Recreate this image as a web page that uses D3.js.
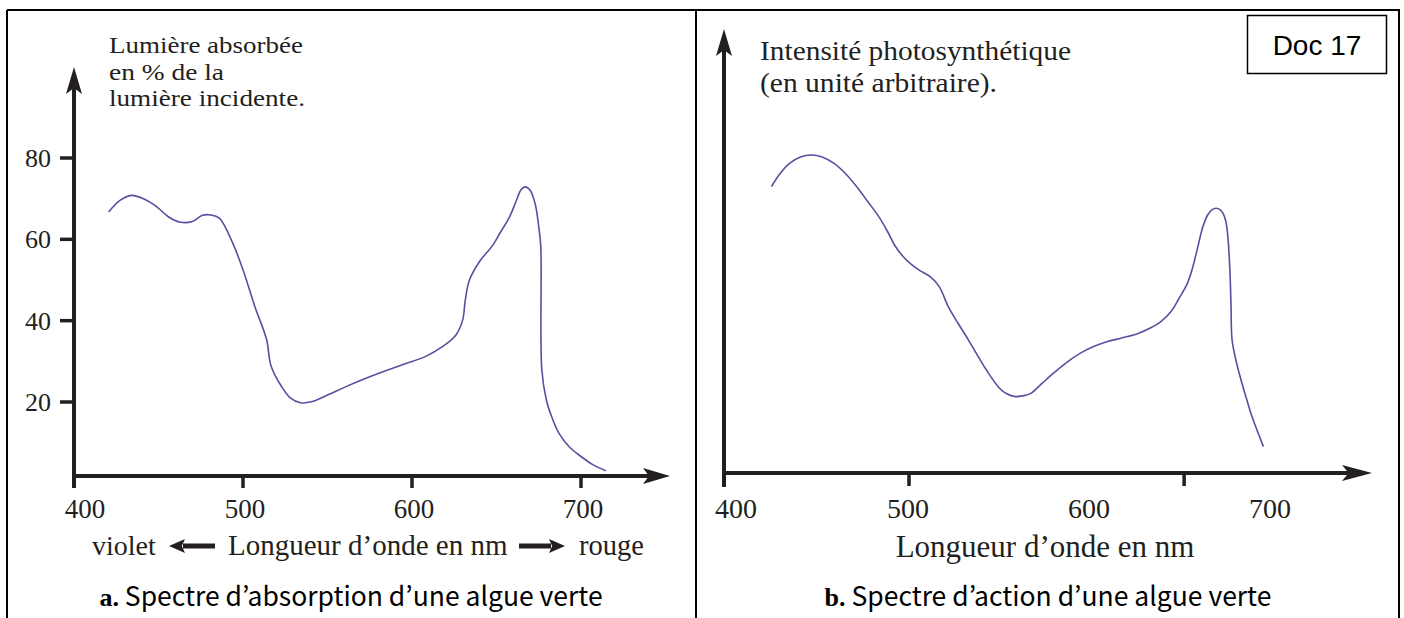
<!DOCTYPE html>
<html><head><meta charset="utf-8">
<script src="https://cdn.jsdelivr.net/npm/d3@7/dist/d3.min.js"></script>
<style>body{margin:0;background:#fff}svg{display:block}</style>
</head><body>
<script>
// ---- data ----
const absWavelength = [420.5,427,434,442,449,456,463,470,476,481,486,494,500,507,514,516.5,522.8,528,534,541,550,560,572,584,596,607.5,618,626,630,631.5,634,640.6,647.2,652,657.8,662,664.5,667,670,673,675,676.2,676.8,679.5,683,687,693,700,707,714.6];
const absValue      = [66.7,69.5,70.8,69.8,68,65.5,64.2,64.4,65.9,66,65.2,59,52.5,43.5,35.3,29,23.8,21,19.8,20.1,21.7,23.6,25.7,27.6,29.4,31.1,33.6,36.5,40.2,45,50,54.9,58.2,61.5,65.6,69.8,72.2,72.9,72,68.5,63.1,58.2,28,20.5,16,12.3,9,6.6,4.6,3.1];
const actWavelength = [424,429,434,440,446.3,452,458.6,465,471,477,483.3,488,492,496,500.6,506,511.7,516.7,521.7,527,532.8,538,542.7,550,554,558.7,563,567.3,573,579.7,587,594.5,602,609.3,618,626.6,633,639,645,649,653.8,656.5,658.7,662.4,665,667.3,669.7,672,673.5,675,676,677.2,677.9,678.5,681,683.4,686.5,689.5,695.8];
const actValue      = [71.6,75,77.4,79,79.5,79,77.4,74.8,71.6,68,64.1,60.5,57,54.5,52.4,50.6,49.1,46.6,41.6,37.5,33.3,29.3,25.8,21.2,19.8,19.1,19.3,19.9,22.2,24.9,27.6,29.9,31.6,32.8,33.8,34.9,36.2,37.8,40.5,43.5,47.4,51,54.9,61.6,64.5,65.8,66.2,65.8,64.9,63,59.9,51.6,42,33.3,27.5,23.3,18.5,14.1,6.6];
const leftYTicks = [20,40,60,80];
const xTickLabels = [400,500,600,700];
const leftXTicks = [500,600,700];
const rightXTicks = [500,652];
const leftYLabelLines = ["Lumière absorbée", "en % de la", "lumière incidente."];
const rightYLabelLines = ["Intensité photosynthétique", "(en unité arbitraire)."];

const W = 1404, H = 618;
const ink = "#231f20", curveColor = "#5a4ea0";
const serif = "'Liberation Serif','Times New Roman',serif";
const sans = "'Noto Sans CJK JP','Noto Sans',sans-serif";

const svg = d3.select("body").append("svg").attr("width", W).attr("height", H);
svg.append("rect").attr("width", W).attr("height", H).attr("fill", "#fff");

// table borders
const border = svg.append("g").attr("stroke", "#000").attr("stroke-width", 2).attr("fill", "none");
border.append("line").attr("x1", 7).attr("x2", 1400).attr("y1", 10).attr("y2", 10);
border.append("line").attr("x1", 7).attr("x2", 7).attr("y1", 10).attr("y2", H);
border.append("line").attr("x1", 696).attr("x2", 696).attr("y1", 10).attr("y2", H);
border.append("line").attr("x1", 1399).attr("x2", 1399).attr("y1", 10).attr("y2", H);

function arrowHead(g, x, y, dir, len, wid) {
  let p;
  if (dir === "up") p = [[x, y], [x - wid/2, y + len], [x, y + len*0.78], [x + wid/2, y + len]];
  else p = [[x, y], [x - len, y - wid/2], [x - len*0.78, y], [x - len, y + wid/2]];
  g.append("path").attr("d", d3.line()(p) + "Z").attr("fill", ink);
}

// ================= LEFT PANEL =================
const xL = d3.scaleLinear().domain([400, 700]).range([74, 581]);
const yL = d3.scaleLinear().domain([20, 80]).range([402, 158]);
const axL = {x: 74, y: 476};
const gL = svg.append("g");
gL.append("line").attr("x1", axL.x).attr("x2", axL.x).attr("y1", 488).attr("y2", 85)
  .attr("stroke", ink).attr("stroke-width", 4);
arrowHead(gL, axL.x, 67, "up", 27, 16);
gL.append("line").attr("x1", axL.x - 2).attr("x2", 650).attr("y1", axL.y).attr("y2", axL.y)
  .attr("stroke", ink).attr("stroke-width", 4);
arrowHead(gL, 670, axL.y, "right", 27, 16);
gL.selectAll(".yt").data(leftYTicks).join("line")
  .attr("x1", 60).attr("x2", axL.x).attr("y1", d => yL(d)).attr("y2", d => yL(d))
  .attr("stroke", ink).attr("stroke-width", 3.5);
gL.selectAll(".ytl").data(leftYTicks).join("text")
  .attr("x", 51).attr("y", d => yL(d) + 9).attr("text-anchor", "end")
  .attr("font-family", serif).attr("font-size", 26).attr("fill", ink).text(d => d);
gL.selectAll(".xt").data(leftXTicks).join("line")
  .attr("x1", d => xL(d)).attr("x2", d => xL(d)).attr("y1", axL.y).attr("y2", 488)
  .attr("stroke", ink).attr("stroke-width", 3.5);
gL.selectAll(".xtl").data(xTickLabels).join("text")
  .attr("x", (d, i) => xL(d) + (i === 0 ? 11 : 2)).attr("y", 518).attr("text-anchor", "middle")
  .attr("font-family", serif).attr("font-size", 27).attr("fill", ink).text(d => d);
const leftLabelWidths = [194, 115, 196];
leftYLabelLines.forEach((t, i) => {
  gL.append("text").attr("x", 109).attr("y", 53 + i * 26.6)
    .attr("font-family", serif).attr("font-size", 23.5).attr("fill", ink)
    .attr("textLength", leftLabelWidths[i]).attr("lengthAdjust", "spacingAndGlyphs").text(t);
});
const subY = 555;
gL.append("text").attr("x", 92).attr("y", subY).attr("font-family", serif).attr("font-size", 28).attr("fill", ink).text("violet");
gL.append("text").attr("x", 228).attr("y", subY).attr("font-family", serif).attr("font-size", 29).attr("fill", ink).text("Longueur d’onde en nm");
gL.append("text").attr("x", 579).attr("y", subY).attr("font-family", serif).attr("font-size", 28.5).attr("fill", ink).text("rouge");
function fatArrow(g, x1, x2, y, dir) {
  const hl = 16, hw = 14;
  if (dir === "left") {
    g.append("line").attr("x1", x1 + hl - 2).attr("x2", x2).attr("y1", y).attr("y2", y).attr("stroke", ink).attr("stroke-width", 5);
    g.append("path").attr("d", d3.line()([[x1, y], [x1 + hl, y - hw/2], [x1 + hl*0.8, y], [x1 + hl, y + hw/2]]) + "Z").attr("fill", ink);
  } else {
    g.append("line").attr("x1", x1).attr("x2", x2 - hl + 2).attr("y1", y).attr("y2", y).attr("stroke", ink).attr("stroke-width", 5);
    g.append("path").attr("d", d3.line()([[x2, y], [x2 - hl, y - hw/2], [x2 - hl*0.8, y], [x2 - hl, y + hw/2]]) + "Z").attr("fill", ink);
  }
}
fatArrow(gL, 169, 215, 546, "left");
fatArrow(gL, 519, 565, 546, "right");
const absData = absWavelength.map((w, i) => [w, absValue[i]]);
gL.append("path").datum(absData)
  .attr("d", d3.line().x(d => xL(d[0])).y(d => yL(d[1])).curve(d3.curveCatmullRom.alpha(0.5)))
  .attr("fill", "none").attr("stroke", curveColor).attr("stroke-width", 1.6);
const capL = gL.append("text").attr("x", 351).attr("y", 606).attr("text-anchor", "middle").attr("fill", "#000");
capL.append("tspan").attr("font-family", serif).attr("font-weight", "bold").attr("font-size", 26).text("a.");
capL.append("tspan").attr("font-family", sans).attr("font-size", 26.5).text(" Spectre d’absorption d’une algue verte");

// ================= RIGHT PANEL =================
const xR = d3.scaleLinear().domain([500, 600]).range([909, 1090]);
const yR = d3.scaleLinear().domain([0, 100]).range([473, 73]);
const axR = {x: 724, y: 473};
const gR = svg.append("g");
gR.append("line").attr("x1", axR.x).attr("x2", axR.x).attr("y1", 487).attr("y2", 48)
  .attr("stroke", ink).attr("stroke-width", 4);
arrowHead(gR, axR.x, 29, "up", 27, 16);
gR.append("line").attr("x1", axR.x - 2).attr("x2", 1352).attr("y1", axR.y).attr("y2", axR.y)
  .attr("stroke", ink).attr("stroke-width", 4);
arrowHead(gR, 1372, axR.y, "right", 30, 16);
gR.selectAll(".xt").data(rightXTicks).join("line")
  .attr("x1", d => xR(d)).attr("x2", d => xR(d)).attr("y1", axR.y).attr("y2", 486)
  .attr("stroke", ink).attr("stroke-width", 3.5);
gR.selectAll(".xtl").data(xTickLabels).join("text")
  .attr("x", (d, i) => xR(d) + (i === 0 ? 8 : -1)).attr("y", 518).attr("text-anchor", "middle")
  .attr("font-family", serif).attr("font-size", 28).attr("fill", ink).text(d => d);
rightYLabelLines.forEach((t, i) => {
  gR.append("text").attr("x", 760).attr("y", 60 + i * 31.5)
    .attr("font-family", serif).attr("font-size", 28).attr("fill", ink)
    .attr("textLength", i === 0 ? 311 : 237).attr("lengthAdjust", "spacingAndGlyphs").text(t);
});
gR.append("text").attr("x", 1045).attr("y", 557).attr("text-anchor", "middle")
  .attr("font-family", serif).attr("font-size", 31).attr("fill", ink).text("Longueur d’onde en nm");
const actData = actWavelength.map((w, i) => [w, actValue[i]]);
gR.append("path").datum(actData)
  .attr("d", d3.line().x(d => xR(d[0])).y(d => yR(d[1])).curve(d3.curveCatmullRom.alpha(0.5)))
  .attr("fill", "none").attr("stroke", curveColor).attr("stroke-width", 1.6);
const capR = gR.append("text").attr("x", 1048).attr("y", 606).attr("text-anchor", "middle").attr("fill", "#000");
capR.append("tspan").attr("font-family", serif).attr("font-weight", "bold").attr("font-size", 26).text("b.");
capR.append("tspan").attr("font-family", sans).attr("font-size", 26.5).text(" Spectre d’action d’une algue verte");

// Doc 17 box
svg.append("rect").attr("x", 1247.5).attr("y", 15.5).attr("width", 139).attr("height", 58)
  .attr("fill", "#fff").attr("stroke", "#000").attr("stroke-width", 1.5);
svg.append("text").attr("x", 1317).attr("y", 55).attr("text-anchor", "middle")
  .attr("font-family", "'Liberation Sans',Arial,sans-serif").attr("font-size", 28).attr("fill", "#000").text("Doc 17");
</script>
</body></html>
